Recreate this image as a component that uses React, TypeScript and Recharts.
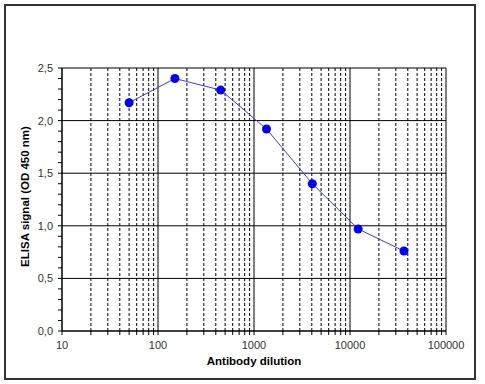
import { LineChart, Line, XAxis, YAxis, CartesianGrid } from 'recharts';

// serial 1:3 dilution of the antibody
const dilutions = [50, 150, 450, 1350, 4050, 12150, 36450];
const signals = [2.17, 2.4, 2.29, 1.92, 1.4, 0.97, 0.76];

const xMajorTicks = [10, 100, 1000, 10000, 100000];
const xMinorSteps = [2, 3, 4, 5, 6, 7, 8, 9];
const yAllTicks = [
  0, 0.1, 0.2, 0.3, 0.4, 0.5, 0.6, 0.7, 0.8, 0.9, 1.0, 1.1, 1.2, 1.3, 1.4, 1.5,
  1.6, 1.7, 1.8, 1.9, 2.0, 2.1, 2.2, 2.3, 2.4, 2.5,
];
const yMajorTicks = [0, 0.5, 1.0, 1.5, 2.0, 2.5];

const xMinorTicks = xMajorTicks.slice(0, -1).flatMap(d => xMinorSteps.map(s => d * s));
const xAllTicks = [...xMajorTicks, ...xMinorTicks].sort((a, b) => a - b);

const chartData = dilutions.map((d, i) => ({ dilution: d, signal: signals[i] }));

const font = 'Arial, "Liberation Sans", sans-serif';

export default function App() {
  const fmtY = (v: number) =>
    yMajorTicks.some(t => Math.abs(t - v) < 1e-6) ? v.toFixed(1).replace('.', ',') : '';
  const fmtX = (v: number) => (xMajorTicks.includes(v) ? String(v) : '');

  return (
    <div style={{ position: 'absolute', left: 0, top: 0, width: 485, height: 384, background: '#fff' }}>
      {/* outer frame */}
      <div
        style={{
          position: 'absolute',
          left: 4,
          top: 4,
          width: 472,
          height: 376,
          border: '2px solid #333',
          boxSizing: 'border-box',
        }}
      />
      <div style={{ position: 'absolute', left: 0, top: 0 }}>
        <LineChart
          width={485}
          height={384}
          data={chartData}
          margin={{ top: 68, right: 39, left: 0, bottom: 0 }}
        >
          {/* dotted minor verticals */}
          <CartesianGrid
            horizontal={false}
            verticalValues={xMinorTicks}
            stroke="#000"
            strokeDasharray="3 2"
          />
          {/* solid majors */}
          <CartesianGrid
            horizontalValues={yMajorTicks}
            verticalValues={xMajorTicks}
            stroke="#000"
          />
          <XAxis
            dataKey="dilution"
            type="number"
            scale="log"
            domain={[10, 100000]}
            ticks={xAllTicks}
            interval={0}
            tickFormatter={fmtX}
            height={53}
            stroke="#000"
            tickSize={4}
            tickMargin={6}
            tick={{ fontSize: 11, fill: '#333', fontFamily: font }}
            label={{
              content: ({ viewBox }: any) => (
                <text
                  x={viewBox.x + viewBox.width / 2}
                  y={viewBox.y + 34}
                  textAnchor="middle"
                  fontSize={11.5}
                  fontWeight="bold"
                  fontFamily={font}
                  fill="#000"
                >
                  Antibody dilution
                </text>
              ),
            }}
          />
          <YAxis
            type="number"
            domain={[0, 2.5]}
            ticks={yAllTicks}
            interval={0}
            tickFormatter={fmtY}
            width={62}
            stroke="#000"
            tickSize={4}
            tickMargin={5}
            tick={{ fontSize: 11, fill: '#333', fontFamily: font }}
            label={{
              content: ({ viewBox }: any) => {
                const cx = 29;
                const cy = viewBox.y + viewBox.height / 2 - 3;
                return (
                  <text
                    x={cx}
                    y={cy}
                    transform={`rotate(-90 ${cx} ${cy})`}
                    textAnchor="middle"
                    fontSize={11.5}
                    fontWeight="bold"
                    fontFamily={font}
                    fill="#000"
                  >
                    ELISA signal (OD 450 nm)
                  </text>
                );
              },
            }}
          />
          <Line
            type="linear"
            dataKey="signal"
            stroke="#3b3bf5"
            strokeWidth={1}
            dot={{ r: 4.5, fill: '#0000ff', stroke: '#0000ff', strokeWidth: 0 }}
            isAnimationActive={false}
          />
        </LineChart>
      </div>
    </div>
  );
}
